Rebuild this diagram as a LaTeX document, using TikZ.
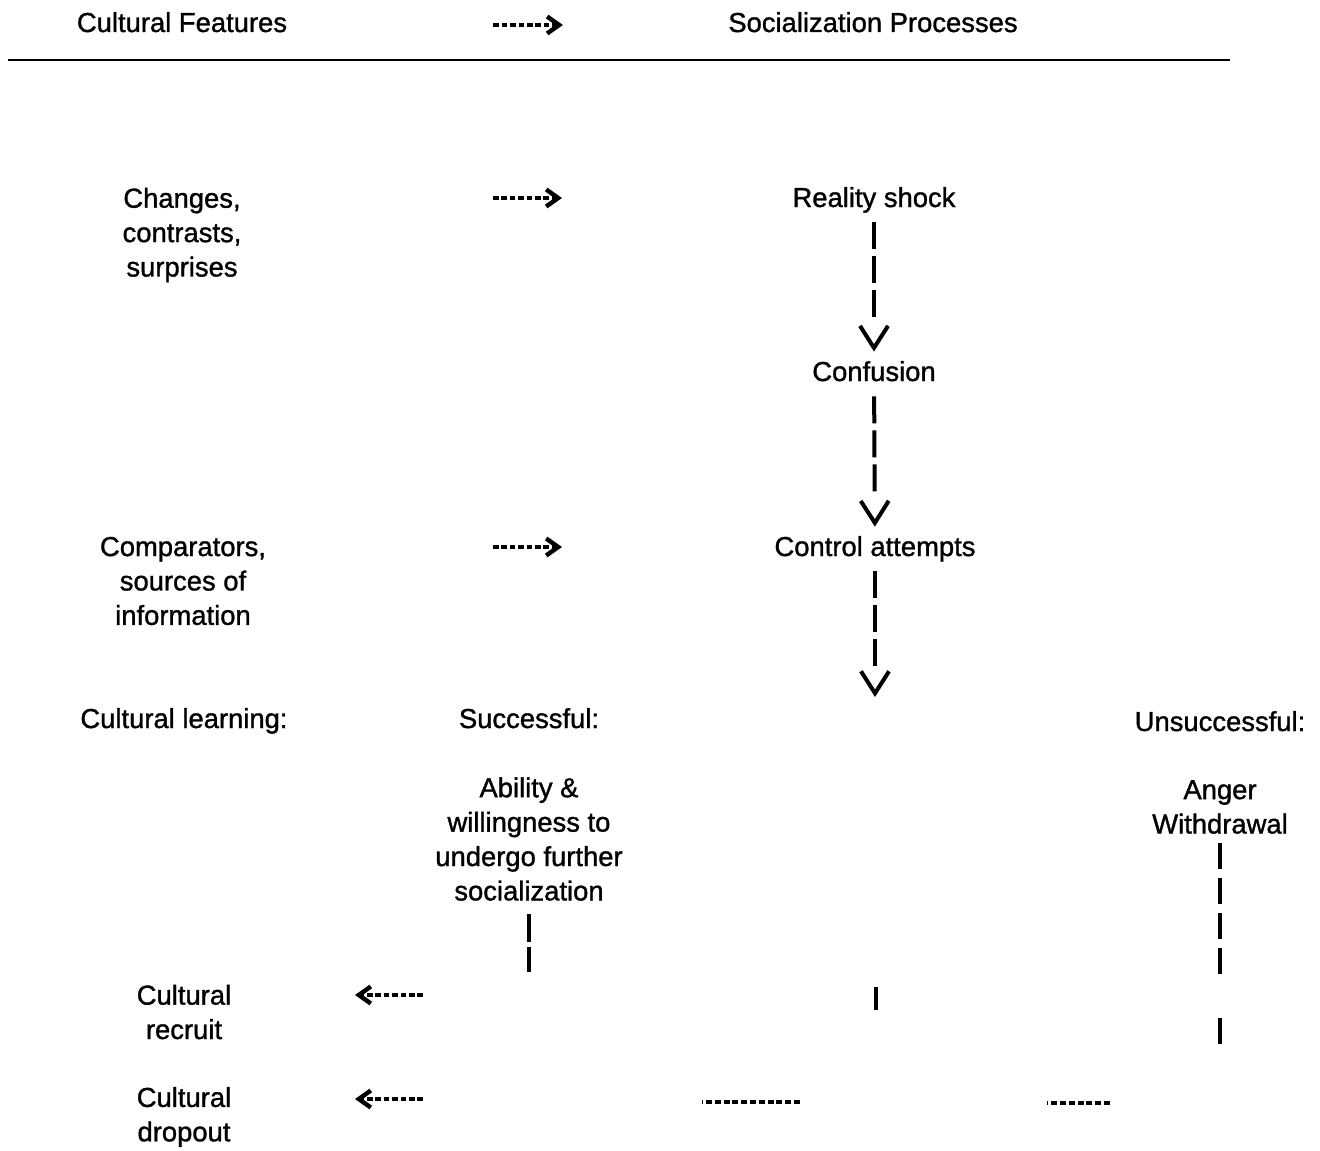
\documentclass[tikz,border=0pt]{standalone}
\usepackage{fontspec}
\setmainfont{Liberation Sans}[BoldFont={Liberation Sans}, BoldFeatures={FakeBold=1.2}]
\usetikzlibrary{arrows.meta, positioning, calc}

\begin{document}
\begin{tikzpicture}[x=0.5pt, y=-0.5pt,
    txt/.style={font=\fontsize{13.7}{17.2}\selectfont\bfseries, align=center, inner xsep=2pt, inner ysep=4.5pt},
    oneline/.style={txt, text height=10pt, text depth=3pt},
    hline/.style={draw, line width=1.6pt, dash pattern=on 2.8pt off 1.4pt, -{Straight Barb[length=6pt, width=8.5pt, line width=2.2pt]}},
    vline/.style={draw, line width=2pt, dash pattern=on 13.5pt off 3.5pt on 13.5pt off 3.5pt on 13.5pt off 20pt, -{Straight Barb[length=11pt, width=14pt, line width=2pt]}},
    vdash/.style={draw, line width=2.2pt, dash pattern=on 13pt off 4.5pt},
    dots/.style={draw, line width=1.6pt, dash pattern=on 3pt off 1.4pt}]

    \useasboundingbox (0,0) rectangle (1320,1150);

    % Header
    \node [oneline] (features) at (182,25) {Cultural Features};
    \node [oneline] (processes) at (873,25) {Socialization Processes};
    \draw [hline, shorten <=101pt, shorten >=80.5pt] (features) -- (processes);
    \draw [line width=1.2pt] (8,60) -- (1230,60);

    % Cultural features (left column)
    \node [txt] (changes) at (182,235) {Changes,\\contrasts,\\surprises};
    \node [txt] (comparators) at (183,581) {Comparators,\\sources of\\information};
    \node [oneline] (learning) at (184,721) {Cultural learning:};
    \node [txt] (recruit) at (184,1012) {Cultural\\recruit};
    \node [txt] (dropout) at (184,1117) {Cultural\\dropout};

    % Socialization processes (right column)
    \node [oneline] (shock) at (874,200) {Reality shock};
    \node [oneline] (confusion) at (874,374) {Confusion};
    \node [oneline] (control) at (875,549) {Control attempts};
    \coordinate (turn) at (875,697);
    \node [oneline] (success) at (529,721) {Successful:};
    \node [oneline] (unsuccess) at (1220,724) {Unsuccessful:};
    \node [txt] (ability) at (529,839) {Ability \&\\willingness to\\undergo further\\socialization};
    \node [txt] (anger) at (1220,807) {Anger\\Withdrawal};

    % Free ends
    \coordinate (chg-a) at (493,198);  \coordinate (chg-b) at (562,198);
    \coordinate (cmp-a) at (493,547);  \coordinate (cmp-b) at (562,547);
    \coordinate (abl-end) at (529,975);
    \coordinate (ang-end) at (1220,1048);
    \coordinate (mid-a) at (876,987);  \coordinate (mid-b) at (876,1010);
    \coordinate (rec-a) at (423,995);  \coordinate (rec-b) at (355,995);
    \coordinate (drp-a) at (423,1099); \coordinate (drp-b) at (355,1099);
    \coordinate (dot1-a) at (800,1102); \coordinate (dot1-b) at (702,1102);
    \coordinate (dot2-a) at (1110,1103); \coordinate (dot2-b) at (1047,1103);

    % Connections
    \draw [hline] (chg-a) -- (chg-b);
    \draw [hline] (cmp-a) -- (cmp-b);
    \draw [vline] (shock) -- (confusion);
    \draw [vline] (confusion) -- (control);
    \draw [vline] (control) -- (turn);
    \draw [vdash, dash pattern=on 14pt off 2.5pt on 12.5pt off 5pt, shorten <=2pt] (ability) -- (abl-end);
    \draw [vdash, dash pattern=on 13pt off 4.5pt on 13pt off 4.5pt on 13pt off 4.5pt on 13pt off 22pt on 13pt off 5pt] (anger) -- (ang-end);
    \draw [vdash] (mid-a) -- (mid-b);
    \draw [hline] (rec-a) -- (rec-b);
    \draw [hline] (drp-a) -- (drp-b);
    \draw [dots] (dot1-a) -- (dot1-b);
    \draw [dots] (dot2-a) -- (dot2-b);

\end{tikzpicture}
\end{document}
